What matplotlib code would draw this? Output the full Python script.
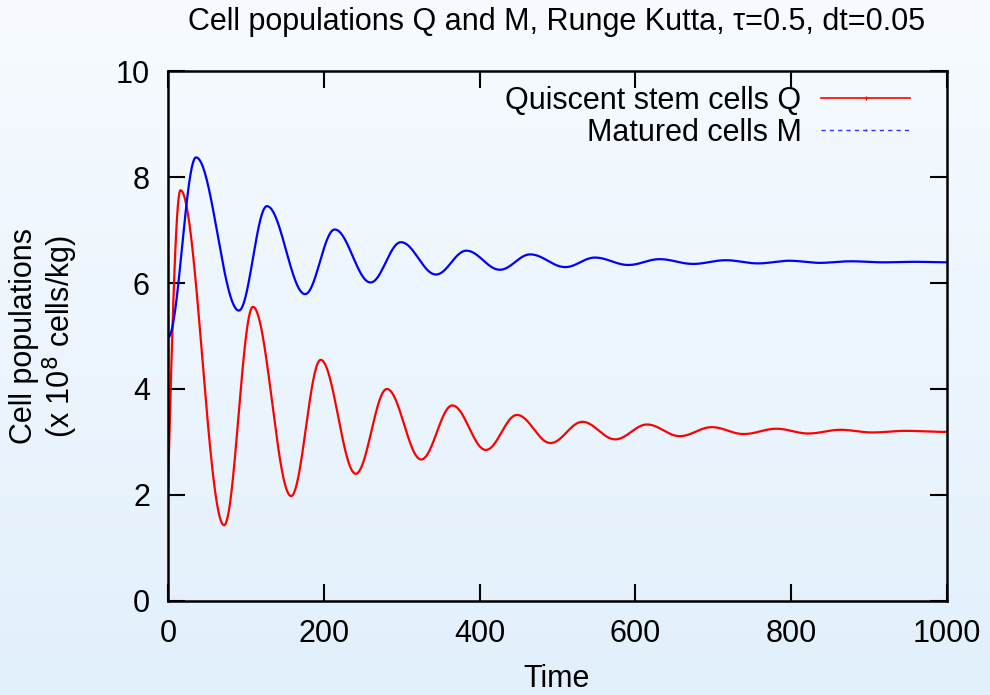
import numpy as np
import matplotlib
matplotlib.use('Agg')
import matplotlib.pyplot as plt
from matplotlib.lines import Line2D

plt.rcParams['font.family'] = ['Liberation Sans', 'DejaVu Sans']

# extrema (time, value)
q_time = [0, 16, 72, 109, 158, 196, 241, 281, 325, 365, 408, 448, 491, 532,
          574, 615, 657, 698, 739, 781, 822, 863, 904, 946, 1000]
q_vals = [2.15, 7.75, 1.43, 5.55, 1.98, 4.55, 2.40, 4.00, 2.67, 3.69, 2.85, 3.51,
          2.98, 3.38, 3.05, 3.33, 3.11, 3.28, 3.15, 3.25, 3.16, 3.23, 3.18, 3.21, 3.19]

m_time = [0, 36, 91, 127, 176, 214, 260, 299, 344, 383, 426, 465, 510, 548,
          591, 631, 674, 716, 757, 798, 836, 877, 918, 958, 1000]
m_vals = [4.97, 8.37, 5.48, 7.45, 5.79, 7.01, 6.01, 6.77, 6.16, 6.61, 6.25, 6.54,
          6.30, 6.48, 6.34, 6.45, 6.36, 6.43, 6.37, 6.42, 6.38, 6.41, 6.39, 6.40, 6.39]

x_ticks = [0, 200, 400, 600, 800, 1000]
y_ticks = [0, 2, 4, 6, 8, 10]


def smooth(ts, vs, steep_start=False):
    # join consecutive extrema with half-cosine arcs
    xs, ys = [], []
    for i in range(len(ts) - 1):
        s = np.linspace(0, 1, 60)
        if i == 0 and steep_start:
            w = np.sin(np.pi / 2 * s)
        else:
            w = (1 - np.cos(np.pi * s)) / 2
        xs.append(ts[i] + (ts[i + 1] - ts[i]) * s)
        ys.append(vs[i] + (vs[i + 1] - vs[i]) * w)
    return np.concatenate(xs), np.concatenate(ys)


fig = plt.figure(figsize=(9.9, 6.95), dpi=100)

# gradient background
bg = fig.add_axes([0, 0, 1, 1], zorder=-1)
top = np.array([247, 251, 255]) / 255
bot = np.array([226, 240, 252]) / 255
g = np.linspace(0, 1, 256)[:, None]
grad = top[None, :] * (1 - g) + bot[None, :] * g
bg.imshow(grad[:, None, :], aspect='auto', extent=[0, 1, 0, 1])
bg.axis('off')

ax = fig.add_axes([0.1697, 0.1353, 0.7869, 0.7625])
ax.set_facecolor('none')

qx, qy = smooth(q_time, q_vals, steep_start=True)
mx, my = smooth(m_time, m_vals)
ax.plot(qx, qy, color='#ff0000', lw=1.6)
ax.plot(mx, my, color='#0000ff', lw=1.6)

ax.set_xlim(0, 1000)
ax.set_ylim(0, 10)
ax.set_xticks(x_ticks)
ax.set_yticks(y_ticks)
ax.tick_params(direction='in', length=12, width=1.5, labelsize=22, pad=13,
               top=True, right=True)
for sp in ax.spines.values():
    sp.set_linewidth(1.8)

# title and x label placed by baseline
fig.text(0.5626, 0.957, 'Cell populations Q and M, Runge Kutta, \u03c4=0.5, dt=0.05',
         fontsize=22, ha='center', va='baseline')
fig.text(0.5626, 0.011, 'Time', fontsize=22, ha='center', va='baseline')
ax.set_ylabel('Cell populations\n(x 10$^{8}$ cells/kg)', fontsize=22,
              labelpad=26, linespacing=1.05)

handles = [Line2D([], [], color='#ff0000', lw=1.2, marker='|', markersize=3),
           Line2D([], [], color='#3030ff', lw=1.0, ls=(0, (3, 3)),
                  marker='|', markersize=2)]
ax.legend(handles, ['Quiscent stem cells Q', 'Matured cells M'],
          loc='upper right', bbox_to_anchor=(0.9525, 0.972), frameon=False,
          fontsize=22, markerfirst=False, handlelength=2.9, handletextpad=0.65,
          labelspacing=0.06, borderaxespad=0.0, borderpad=0.0, numpoints=1)
for t in ax.get_legend().get_texts():
    t.set_ha('right')

fig.savefig('out.png', dpi=100)
